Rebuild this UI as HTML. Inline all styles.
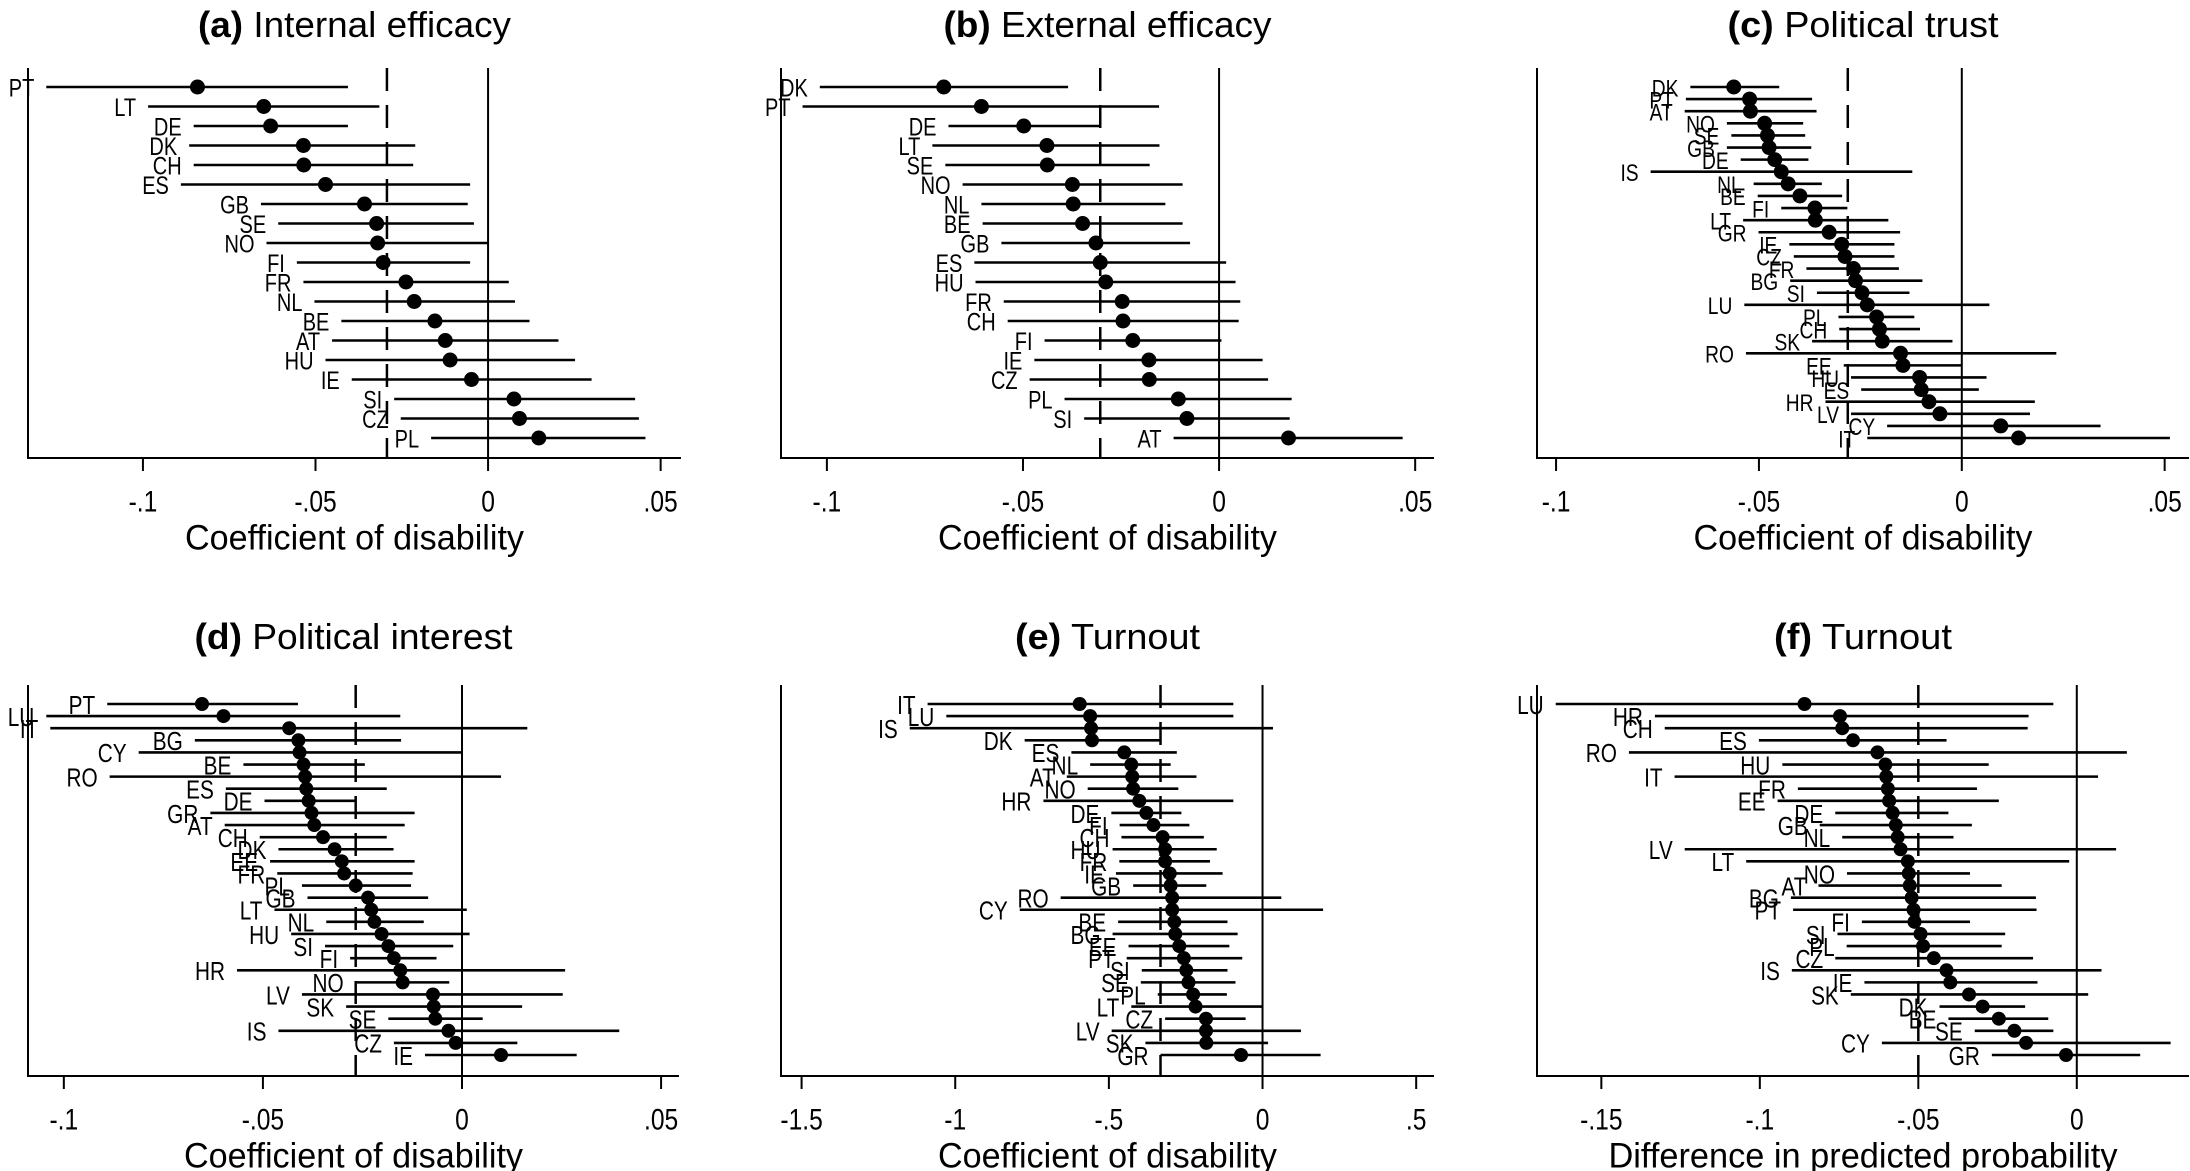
<!DOCTYPE html>
<html><head><meta charset="utf-8"><style>
html,body{margin:0;padding:0;background:#fff;}
svg{display:block;font-family:"Liberation Sans",Arial,sans-serif;}
</style></head><body>
<svg id="chart" width="2190" height="1171" viewBox="0 0 2190 1171" xmlns="http://www.w3.org/2000/svg">
<rect width="2190" height="1171" fill="#fff"/>
</svg>
<script>
// ---- Panel (a) Internal efficacy ----
const countriesA=["PT","LT","DE","DK","CH","ES","GB","SE","NO","FI","FR","NL","BE","AT","HU","IE","SI","CZ","PL"];
const pointA=[-0.0842,-0.065,-0.063,-0.0535,-0.0534,-0.0471,-0.0358,-0.0323,-0.032,-0.0304,-0.0238,-0.0214,-0.0154,-0.0124,-0.011,-0.0048,0.0075,0.0091,0.0147];
const lowA=[-0.128,-0.0985,-0.0853,-0.0866,-0.0853,-0.089,-0.0658,-0.0608,-0.0642,-0.0554,-0.0535,-0.0503,-0.0425,-0.0452,-0.0471,-0.0395,-0.0272,-0.0253,-0.0165];
const highA=[-0.0406,-0.0315,-0.0406,-0.0211,-0.0217,-0.0052,-0.0059,-0.0041,0,-0.0052,0.006,0.0078,0.012,0.0204,0.0252,0.030,0.0426,0.0437,0.0456];
const meanA=-0.0293;
const ticksA=[-0.1,-0.05,0,0.05]; const tickLabelsA=["-.1","-.05","0",".05"];
// ---- Panel (b) External efficacy ----
const countriesB=["DK","PT","DE","LT","SE","NO","NL","BE","GB","ES","HU","FR","CH","FI","IE","CZ","PL","SI","AT"];
const pointB=[-0.0702,-0.0606,-0.0498,-0.0439,-0.0438,-0.0374,-0.0372,-0.0348,-0.0314,-0.0303,-0.0289,-0.0247,-0.0245,-0.022,-0.0179,-0.0178,-0.0104,-0.0082,0.0177];
const lowB=[-0.1018,-0.1062,-0.069,-0.0731,-0.0698,-0.0654,-0.0606,-0.0603,-0.0555,-0.0624,-0.0621,-0.0549,-0.0539,-0.0445,-0.0471,-0.0483,-0.0394,-0.0344,-0.0116];
const highB=[-0.0385,-0.0153,-0.0304,-0.0152,-0.0177,-0.0093,-0.0137,-0.0093,-0.0074,0.0018,0.0042,0.0054,0.005,0.0006,0.0111,0.0125,0.0185,0.018,0.0468];
const meanB=-0.0303;
const ticksB=[-0.1,-0.05,0,0.05]; const tickLabelsB=["-.1","-.05","0",".05"];
// ---- Panel (c) Political trust ----
const countriesC=["DK","PT","AT","NO","SE","GB","DE","IS","NL","BE","FI","LT","GR","IE","CZ","FR","BG","SI","LU","PL","CH","SK","RO","EE","HU","ES","HR","LV","CY","IT"];
const pointC=[-0.0562,-0.0523,-0.0521,-0.0486,-0.0479,-0.0475,-0.0461,-0.0445,-0.0428,-0.0399,-0.0362,-0.0361,-0.0327,-0.0296,-0.0288,-0.0267,-0.0262,-0.0246,-0.0233,-0.021,-0.0203,-0.0196,-0.0151,-0.0145,-0.0104,-0.01,-0.0081,-0.0054,0.0096,0.014];
const lowC=[-0.0669,-0.068,-0.0683,-0.0579,-0.0568,-0.0579,-0.0545,-0.0767,-0.0513,-0.0503,-0.0445,-0.0539,-0.0501,-0.0425,-0.0414,-0.0383,-0.0423,-0.0357,-0.0536,-0.0304,-0.0302,-0.0369,-0.0532,-0.0291,-0.0273,-0.0248,-0.0336,-0.0273,-0.0184,-0.0233];
const highC=[-0.045,-0.0369,-0.0358,-0.0391,-0.0386,-0.0371,-0.0378,-0.0122,-0.0345,-0.0295,-0.0282,-0.0181,-0.0152,-0.0166,-0.0166,-0.0155,-0.0097,-0.0129,0.0068,-0.0117,-0.0103,-0.0023,0.0233,0,0.0061,0.0042,0.018,0.0168,0.0342,0.0513];
const meanC=-0.0281;
const ticksC=[-0.1,-0.05,0,0.05]; const tickLabelsC=["-.1","-.05","0",".05"];
// ---- Panel (d) Political interest ----
const countriesD=["PT","LU","IT","BG","CY","BE","RO","ES","DE","GR","AT","CH","DK","EE","FR","PL","GB","LT","NL","HU","SI","FI","HR","NO","LV","SK","SE","IS","CZ","IE"];
const pointD=[-0.0653,-0.0599,-0.0434,-0.0411,-0.0408,-0.0398,-0.0394,-0.0391,-0.0385,-0.0378,-0.0371,-0.0349,-0.032,-0.0302,-0.0296,-0.0267,-0.0236,-0.0228,-0.022,-0.0202,-0.0185,-0.0171,-0.0155,-0.0149,-0.0073,-0.0071,-0.0067,-0.0034,-0.0016,0.0098];
const lowD=[-0.0891,-0.1044,-0.1034,-0.0671,-0.0812,-0.0549,-0.0885,-0.0593,-0.0496,-0.0632,-0.0596,-0.0508,-0.0461,-0.0482,-0.0464,-0.0402,-0.0388,-0.0471,-0.0341,-0.0429,-0.0344,-0.0281,-0.0565,-0.0267,-0.0402,-0.0291,-0.0185,-0.0461,-0.0171,-0.0093];
const highD=[-0.0412,-0.0155,0.0164,-0.0153,0,-0.0244,0.0098,-0.0189,-0.0267,-0.0119,-0.0144,-0.0189,-0.0172,-0.0119,-0.0124,-0.0128,-0.0085,0.0012,-0.0096,0.0019,-0.0022,-0.0064,0.0259,-0.0032,0.0253,0.0151,0.0052,0.0395,0.0139,0.0288];
const meanD=-0.0267;
const ticksD=[-0.1,-0.05,0,0.05]; const tickLabelsD=["-.1","-.05","0",".05"];
// ---- Panel (e) Turnout (coefficients) ----
const countriesE=["IT","LU","IS","DK","ES","NL","AT","NO","HR","DE","FI","CH","HU","FR","IE","GB","RO","CY","BE","BG","EE","PT","SI","SE","PL","LT","CZ","LV","SK","GR"];
const pointE=[-0.595,-0.561,-0.558,-0.555,-0.45,-0.427,-0.424,-0.421,-0.401,-0.378,-0.355,-0.325,-0.317,-0.317,-0.302,-0.299,-0.294,-0.294,-0.287,-0.284,-0.271,-0.256,-0.248,-0.241,-0.226,-0.218,-0.184,-0.184,-0.183,-0.07];
const lowE=[-1.09,-1.029,-1.148,-0.774,-0.622,-0.561,-0.637,-0.569,-0.713,-0.492,-0.465,-0.459,-0.488,-0.466,-0.477,-0.421,-0.657,-0.79,-0.47,-0.488,-0.436,-0.442,-0.393,-0.396,-0.341,-0.427,-0.317,-0.491,-0.381,-0.332];
const highE=[-0.095,-0.095,0.034,-0.332,-0.279,-0.299,-0.215,-0.274,-0.095,-0.264,-0.238,-0.191,-0.149,-0.171,-0.13,-0.183,0.061,0.197,-0.114,-0.081,-0.108,-0.066,-0.114,-0.088,-0.116,0,-0.055,0.125,0.018,0.189];
const meanE=-0.332;
const ticksE=[-1.5,-1,-0.5,0,0.5]; const tickLabelsE=["-1.5","-1","-.5","0",".5"];
// ---- Panel (f) Turnout (predicted probability) ----
const countriesF=["LU","HR","CH","ES","RO","HU","IT","FR","EE","DE","GB","NL","LV","LT","NO","AT","BG","PT","FI","SI","PL","CZ","IS","IE","SK","DK","BE","SE","CY","GR"];
const pointF=[-0.0859,-0.0747,-0.074,-0.0706,-0.0629,-0.0604,-0.0601,-0.0596,-0.0592,-0.0581,-0.0571,-0.0565,-0.0556,-0.0533,-0.053,-0.0527,-0.0521,-0.0515,-0.0512,-0.0493,-0.0485,-0.0451,-0.0411,-0.0399,-0.034,-0.0297,-0.0246,-0.0197,-0.016,-0.0034];
const lowF=[-0.1644,-0.1331,-0.13,-0.1003,-0.1413,-0.0929,-0.1269,-0.088,-0.0944,-0.0762,-0.0811,-0.074,-0.1237,-0.1043,-0.0725,-0.0815,-0.0902,-0.0895,-0.0678,-0.0755,-0.0726,-0.0762,-0.0899,-0.067,-0.0713,-0.0433,-0.0405,-0.0322,-0.0615,-0.0268];
const highF=[-0.0074,-0.0152,-0.0155,-0.0411,0.0158,-0.0278,0.0067,-0.0315,-0.0246,-0.0405,-0.0331,-0.0389,0.0124,-0.0024,-0.0337,-0.0237,-0.0129,-0.0127,-0.0337,-0.0226,-0.0237,-0.0138,0.0078,-0.0124,0.0036,-0.0163,-0.009,-0.0074,0.0296,0.02];
const meanF=-0.05;
const ticksF=[-0.15,-0.1,-0.05,0]; const tickLabelsF=["-.15","-.1","-.05","0"];

const NS="http://www.w3.org/2000/svg";
const svg=document.getElementById('chart');
function mk(tag,attrs,parent){const e=document.createElementNS(NS,tag);for(const k in attrs)e.setAttribute(k,attrs[k]);(parent||svg).appendChild(e);return e;}

const panels=[
 {id:'a',letter:'(a)',title:'Internal efficacy',tw:313,xt:'Coefficient of disability',xtw:339,x0:28,x1:681,vmin:-0.1333,vmax:0.0559,row:0,c:countriesA,p:pointA,lo:lowA,hi:highA,m:meanA,t:ticksA,tl:tickLabelsA,fs:25,r:7.5},
 {id:'b',letter:'(b)',title:'External efficacy',tw:328,xt:'Coefficient of disability',xtw:339,x0:781,x1:1434,vmin:-0.1117,vmax:0.0548,row:0,c:countriesB,p:pointB,lo:lowB,hi:highB,m:meanB,t:ticksB,tl:tickLabelsB,fs:25,r:7.5},
 {id:'c',letter:'(c)',title:'Political trust',tw:271,xt:'Coefficient of disability',xtw:339,x0:1537,x1:2189,vmin:-0.1047,vmax:0.056,row:0,c:countriesC,p:pointC,lo:lowC,hi:highC,m:meanC,t:ticksC,tl:tickLabelsC,fs:24,r:7.5},
 {id:'d',letter:'(d)',title:'Political interest',tw:318,xt:'Coefficient of disability',xtw:339,x0:28,x1:679,vmin:-0.109,vmax:0.0545,row:1,c:countriesD,p:pointD,lo:lowD,hi:highD,m:meanD,t:ticksD,tl:tickLabelsD,fs:26,r:7},
 {id:'e',letter:'(e)',title:'Turnout',tw:185,xt:'Coefficient of disability',xtw:339,x0:781,x1:1434,vmin:-1.567,vmax:0.558,row:1,c:countriesE,p:pointE,lo:lowE,hi:highE,m:meanE,t:ticksE,tl:tickLabelsE,fs:26,r:7},
 {id:'f',letter:'(f)',title:'Turnout',tw:178,xt:'Difference in predicted probability',xtw:509,x0:1537,x1:2189,vmin:-0.1703,vmax:0.0354,row:1,c:countriesF,p:pointF,lo:lowF,hi:highF,m:meanF,t:ticksF,tl:tickLabelsF,fs:26,r:7}
];
const rows=[{titleY:24,top:68,axis:458,first:87,last:438},{titleY:636,top:685,axis:1076,first:704,last:1055}];

panels.forEach(P=>{
  const R=rows[P.row];
  const g=mk('g',{});
  
  
  const sx=v=>P.x0+(v-P.vmin)/(P.vmax-P.vmin)*(P.x1-P.x0);
  const n=P.c.length;
  const sy=i=>R.first+(n>1?i*(R.last-R.first)/(n-1):0);
  const cx=(P.x0+P.x1)/2;
  const tt=mk('text',{x:cx,y:R.titleY,'text-anchor':'middle','dominant-baseline':'central','font-size':36,fill:'#000',textLength:P.tw,lengthAdjust:'spacingAndGlyphs'},g);
  
  
  const b=mk('tspan',{'font-weight':'bold'},tt); b.textContent=P.letter;
  const s=mk('tspan',{},tt); s.textContent=' '+P.title;
  const ya=mk('line',{x1:P.x0,y1:R.top,x2:P.x0,y2:R.axis,stroke:'#000','stroke-width':2},g);
  
  
  const xa=mk('line',{x1:P.x0-1,y1:R.axis,x2:P.x1,y2:R.axis,stroke:'#000','stroke-width':2},g);
  
  
  P.t.forEach((v,i)=>{
    const x=sx(v);
    const tk=mk('line',{x1:x,y1:R.axis,x2:x,y2:R.axis+13,stroke:'#000','stroke-width':2},g);
    
    
    const tl=mk('text',{x:0,y:0,transform:'translate('+x+','+(R.axis+43)+') scale(0.82,1)','text-anchor':'middle','dominant-baseline':'central','font-size':30,fill:'#000'},g);
    
    
    tl.textContent=P.tl[i];
  });
  const at=mk('text',{x:cx,y:R.axis+80,'text-anchor':'middle','dominant-baseline':'central','font-size':35,fill:'#000',textLength:P.xtw,lengthAdjust:'spacingAndGlyphs'},g);
  
  
  at.textContent=P.xt;
  const z=mk('line',{x1:sx(0),y1:R.top,x2:sx(0),y2:R.axis,stroke:'#000','stroke-width':2},g);
  
  
  const d=mk('line',{x1:sx(P.m),y1:R.top,x2:sx(P.m),y2:R.axis,stroke:'#000','stroke-width':2.5,'stroke-dasharray':'23 14'},g);
  
  
  for(let i=0;i<n;i++){
    const y=sy(i);
    const ci=mk('line',{x1:sx(P.lo[i]),y1:y,x2:sx(P.hi[i]),y2:y,stroke:'#000','stroke-width':2.6},g);
    
    
    const dot=mk('circle',{cx:sx(P.p[i]),cy:y,r:P.r,fill:'#000'},g);
    
    
    const lb=mk('text',{x:0,y:0,transform:'translate('+(sx(P.lo[i])-12)+','+(y+1)+') scale(0.8,1)','text-anchor':'end','dominant-baseline':'central','font-size':P.fs,fill:'#000'},g);
    
    
    lb.textContent=P.c[i];
  }
});
</script>
</body></html>
